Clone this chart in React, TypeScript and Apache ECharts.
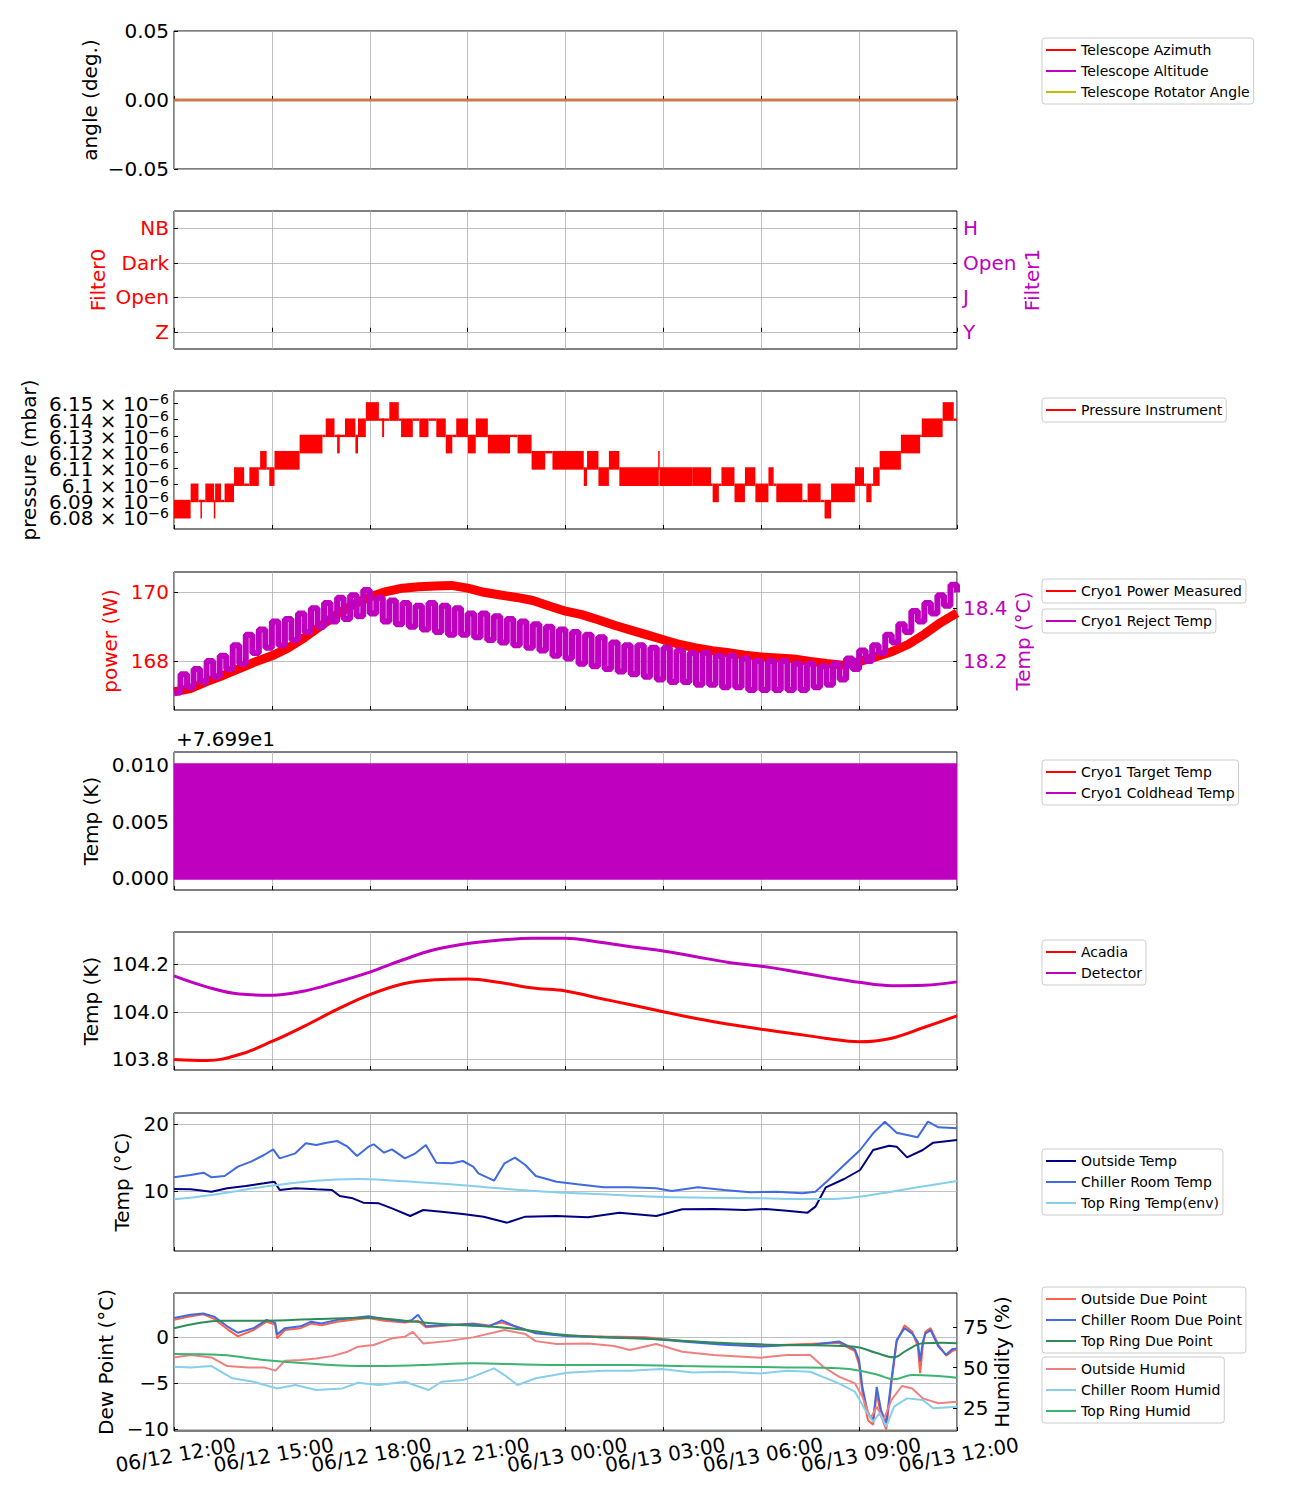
import React, { useEffect, useRef } from 'react';
import * as echarts from 'echarts';

const FONT = 'DejaVu Sans';
const RED = '#ff0000';
const MAGENTA = '#bf00bf';
const OLIVE = '#bfbf00';
const NAVY = '#000080';
const ROYALBLUE = '#4169e1';
const SKYBLUE = '#87ceeb';
const TOMATO = '#ff6347';
const SEAGREEN = '#2e8b57';
const LIGHTCORAL = '#f08080';
const MEDSEAGREEN = '#3cb371';
const GRID_COLOR = '#b0b0b0';

// x axis: hours after 06/12 12:00, one tick label every 3 hours
const xTickLabels = ['06/12 12:00', '06/12 15:00', '06/12 18:00', '06/12 21:00', '06/13 00:00', '06/13 03:00', '06/13 06:00', '06/13 09:00', '06/13 12:00'];

// Panel 1
const telescopeAzimuth = [[0, 0], [24, 0]];
const telescopeAltitude = [[0, 0], [24, 0]];
const telescopeRotator = [[0, 0], [24, 0]];
const angleTicks = [-0.05, 0, 0.05];

// Panel 2
const filterTicks = [0, 1, 2, 3];
const filter0Labels = ['Z', 'Open', 'Dark', 'NB'];
const filter1Labels = ['Y', 'J', 'Open', 'H'];

// Panel 3 (pressure, 1e-6 mbar): [hourStart, hourEnd, low, high]
const pressureMin = 6.0728;
const pressureMax = 6.1576;
const pressureTicks = [6.08, 6.09, 6.1, 6.11, 6.12, 6.13, 6.14, 6.15];
const pressureTickLabels = ['6.08', '6.09', '6.1', '6.11', '6.12', '6.13', '6.14', '6.15'];
const pressureSegments = [
  [0.0, 0.51, 6.08, 6.09], [0.51, 0.75, 6.09, 6.1], [0.75, 0.96, 6.09, 6.09], [0.81, 0.85, 6.08, 6.09],
  [0.96, 1.23, 6.09, 6.1], [1.22, 1.26, 6.08, 6.09], [1.26, 1.44, 6.09, 6.1], [1.44, 1.55, 6.09, 6.09],
  [1.55, 1.84, 6.09, 6.1], [1.84, 2.15, 6.1, 6.11], [2.15, 2.31, 6.1, 6.1], [2.31, 2.6, 6.1, 6.11],
  [2.6, 2.64, 6.11, 6.11], [2.64, 2.84, 6.11, 6.12], [2.84, 2.92, 6.11, 6.11], [2.92, 3.08, 6.1, 6.11],
  [3.08, 3.85, 6.11, 6.12], [3.85, 4.55, 6.12, 6.13], [4.55, 4.65, 6.13, 6.13], [4.65, 4.92, 6.13, 6.14],
  [4.92, 5.24, 6.13, 6.13], [5.0, 5.08, 6.12, 6.13], [5.24, 5.56, 6.13, 6.14], [5.56, 5.64, 6.12, 6.13],
  [5.64, 5.88, 6.13, 6.14], [5.88, 6.28, 6.14, 6.15], [6.28, 6.6, 6.14, 6.14], [6.38, 6.44, 6.13, 6.14],
  [6.6, 6.89, 6.14, 6.15], [6.89, 6.96, 6.14, 6.14], [6.96, 7.32, 6.13, 6.14], [7.32, 7.52, 6.14, 6.14],
  [7.52, 7.8, 6.13, 6.14], [7.8, 8.04, 6.14, 6.14], [8.04, 8.33, 6.13, 6.14], [8.33, 8.53, 6.12, 6.13],
  [8.53, 8.65, 6.13, 6.13], [8.65, 9.01, 6.13, 6.14], [9.01, 9.25, 6.12, 6.13], [9.25, 9.62, 6.13, 6.14],
  [9.62, 10.3, 6.12, 6.13], [10.3, 10.53, 6.13, 6.13], [10.53, 10.96, 6.12, 6.13], [10.96, 11.38, 6.11, 6.12],
  [11.38, 11.6, 6.12, 6.12], [11.6, 12.56, 6.11, 6.12], [12.56, 12.66, 6.1, 6.11], [12.66, 13.01, 6.11, 6.12],
  [13.01, 13.33, 6.1, 6.11], [13.33, 13.65, 6.11, 6.12], [13.65, 14.86, 6.1, 6.11], [14.84, 14.88, 6.11, 6.12],
  [14.88, 15.9, 6.1, 6.11], [15.9, 16.46, 6.1, 6.11], [16.46, 16.51, 6.1, 6.1], [16.51, 16.7, 6.09, 6.1],
  [16.7, 16.78, 6.1, 6.1], [16.78, 17.18, 6.1, 6.11], [17.18, 17.5, 6.09, 6.1], [17.5, 17.82, 6.1, 6.11],
  [17.82, 18.22, 6.09, 6.1], [18.22, 18.38, 6.1, 6.11], [18.38, 18.46, 6.1, 6.1], [18.46, 19.26, 6.09, 6.1],
  [19.26, 19.42, 6.09, 6.09], [19.42, 19.82, 6.09, 6.1], [19.82, 19.94, 6.09, 6.09], [19.94, 20.14, 6.08, 6.09],
  [20.14, 20.87, 6.09, 6.1], [20.87, 21.15, 6.1, 6.11], [21.15, 21.22, 6.1, 6.1], [21.22, 21.38, 6.09, 6.1],
  [21.38, 21.43, 6.1, 6.1], [21.43, 21.63, 6.1, 6.11], [21.63, 22.28, 6.11, 6.12], [22.28, 22.87, 6.12, 6.13],
  [22.87, 22.92, 6.13, 6.13], [22.92, 23.56, 6.13, 6.14], [23.56, 23.9, 6.14, 6.15], [23.9, 24.0, 6.14, 6.14],
];

// Panel 4
const powerTicks = [168, 170];
const rejectTicks = [18.2, 18.4];
const powerMeasured = [
  [0, 167.1], [0.5, 167.2], [1, 167.4], [1.5, 167.58], [2, 167.78], [2.5, 167.98], [3, 168.15], [3.5, 168.38],
  [4, 168.68], [4.5, 169.02], [5, 169.36], [5.5, 169.65], [6, 169.86], [6.5, 170.02], [7, 170.12], [7.5, 170.16],
  [8, 170.18], [8.5, 170.2], [9, 170.12], [9.5, 170.0], [10, 169.92], [10.5, 169.85], [11, 169.76], [11.5, 169.6],
  [12, 169.45], [12.5, 169.35], [13, 169.2], [13.5, 169.04], [14, 168.9], [14.5, 168.76], [15, 168.62], [15.5, 168.48],
  [16, 168.38], [16.5, 168.3], [17, 168.24], [17.5, 168.17], [18, 168.12], [18.5, 168.09], [19, 168.06], [19.5, 167.99],
  [20, 167.93], [20.5, 167.88], [21, 167.98], [21.5, 168.12], [22, 168.27], [22.5, 168.48], [23, 168.78], [23.5, 169.12],
  [24, 169.4],
];
const rejectTemp = [
  [0, 18.08], [0.2, 18.15], [0.4, 18.1], [0.6, 18.17], [0.8, 18.12], [1, 18.2], [1.2, 18.14], [1.4, 18.22],
  [1.6, 18.17], [1.8, 18.26], [2, 18.19], [2.2, 18.3], [2.4, 18.23], [2.6, 18.32], [2.8, 18.25], [3, 18.35],
  [3.2, 18.26], [3.4, 18.36], [3.6, 18.28], [3.8, 18.38], [4, 18.31], [4.2, 18.4], [4.4, 18.33], [4.6, 18.42],
  [4.8, 18.35], [5, 18.44], [5.2, 18.36], [5.4, 18.45], [5.6, 18.37], [5.8, 18.47], [6, 18.38], [6.2, 18.44],
  [6.4, 18.35], [6.6, 18.43], [6.8, 18.34], [7, 18.42], [7.2, 18.33], [7.4, 18.41], [7.6, 18.32], [7.8, 18.42],
  [8, 18.31], [8.2, 18.41], [8.4, 18.3], [8.6, 18.4], [8.8, 18.3], [9, 18.38], [9.2, 18.29], [9.4, 18.38],
  [9.6, 18.28], [9.8, 18.37], [10, 18.27], [10.2, 18.36], [10.4, 18.26], [10.6, 18.35], [10.8, 18.25], [11, 18.34],
  [11.2, 18.24], [11.4, 18.33], [11.6, 18.22], [11.8, 18.32], [12, 18.21], [12.2, 18.31], [12.4, 18.19], [12.6, 18.3],
  [12.8, 18.18], [13, 18.29], [13.2, 18.17], [13.4, 18.27], [13.6, 18.16], [13.8, 18.26], [14, 18.15], [14.2, 18.26],
  [14.4, 18.14], [14.6, 18.25], [14.8, 18.13], [15, 18.25], [15.2, 18.12], [15.4, 18.24], [15.6, 18.12], [15.8, 18.23],
  [16, 18.11], [16.2, 18.23], [16.4, 18.11], [16.6, 18.22], [16.8, 18.1], [17, 18.22], [17.2, 18.1], [17.4, 18.21],
  [17.6, 18.09], [17.8, 18.2], [18, 18.09], [18.2, 18.2], [18.4, 18.09], [18.6, 18.2], [18.8, 18.09], [19, 18.19],
  [19.2, 18.09], [19.4, 18.19], [19.6, 18.1], [19.8, 18.18], [20, 18.11], [20.2, 18.19], [20.4, 18.13], [20.6, 18.21],
  [20.8, 18.17], [21, 18.24], [21.2, 18.2], [21.4, 18.26], [21.6, 18.23], [21.8, 18.3], [22, 18.27], [22.2, 18.34],
  [22.4, 18.31], [22.6, 18.39], [22.8, 18.35], [23, 18.42], [23.2, 18.38], [23.4, 18.45], [23.6, 18.41], [23.8, 18.49],
  [24, 18.46],
];

// Panel 5 (K): coldhead toggles between low and high over the whole span
const coldheadOffset = 76.99;
const coldheadTicks = [76.99, 76.995, 77.0];
const targetTemp = [[0, 77.0], [24, 77.0]];
const coldheadRange = [[0, 24, 76.99, 77.0]]; // [hourStart, hourEnd, low, high]

// Panel 6 (K)
const acadiaDetTicks = [103.8, 104.0, 104.2];
const acadiaTemp = [
  [0, 103.799], [1, 103.795], [2, 103.82], [3, 103.875], [4, 103.94], [5, 104.01], [6, 104.072], [7, 104.117],
  [8, 104.135], [9, 104.138], [10, 104.123], [11, 104.1], [12, 104.088], [13, 104.058], [14, 104.03], [15, 104.0],
  [16, 103.972], [17, 103.948], [18, 103.927], [19, 103.908], [20, 103.888], [21, 103.874], [22, 103.889], [23, 103.935],
  [24, 103.983],
];
const detectorTemp = [
  [0, 104.151], [1, 104.105], [2, 104.075], [3, 104.07], [4, 104.088], [5, 104.125], [6, 104.167], [7, 104.218],
  [8, 104.262], [9, 104.288], [10, 104.302], [11, 104.31], [12, 104.31], [13, 104.294], [14, 104.274], [15, 104.256],
  [16, 104.232], [17, 104.208], [18, 104.192], [19, 104.17], [20, 104.146], [21, 104.124], [22, 104.11], [23, 104.112],
  [24, 104.126],
];

// Panel 7 (deg C)
const envTempTicks = [10, 20];
const outsideTemp = [
  [0, 10.3], [0.51, 10.25], [1.15, 9.9], [1.63, 10.4], [2.2, 10.75], [2.76, 11.15], [3.08, 11.4], [3.24, 10.15],
  [3.72, 10.4], [4.36, 10.25], [4.84, 10.15], [5.08, 9.25], [5.48, 8.9], [5.8, 8.25], [6.28, 8.15], [6.68, 7.4],
  [7.24, 6.25], [7.64, 7.15], [8.2, 6.9], [8.85, 6.55], [9.49, 6.15], [10.21, 5.25], [10.77, 6.15], [11.73, 6.25],
  [12.69, 6.05], [13.65, 6.75], [14.78, 6.25], [15.58, 7.25], [16.54, 7.3], [17.5, 7.15], [18.14, 7.3], [18.78, 7.05],
  [19.42, 6.75], [19.66, 7.65], [19.98, 10.55], [20.54, 11.8], [21.03, 13.15], [21.43, 16.15], [21.92, 16.8], [22.15, 16.65],
  [22.47, 15.05], [22.95, 16.15], [23.27, 17.25], [24, 17.65],
];
const chillerTemp = [
  [0, 12.05], [0.51, 12.4], [0.91, 12.75], [1.15, 12.05], [1.55, 12.25], [1.96, 13.65], [2.36, 14.4], [2.76, 15.4],
  [3.04, 16.25], [3.24, 14.9], [3.72, 15.65], [4.04, 17.15], [4.36, 16.9], [4.68, 17.25], [5.0, 17.5], [5.32, 16.65],
  [5.61, 15.25], [5.96, 16.65], [6.12, 17.0], [6.44, 15.75], [6.68, 16.25], [7.08, 14.9], [7.4, 15.65], [7.72, 16.9],
  [8.04, 14.25], [8.53, 14.15], [8.85, 14.5], [9.17, 13.65], [9.33, 12.65], [9.81, 11.55], [10.13, 14.15], [10.45, 15.0],
  [10.77, 13.9], [11.09, 12.25], [11.73, 11.4], [12.37, 11.0], [13.17, 10.55], [13.97, 10.55], [14.78, 10.4], [15.26, 10.0],
  [16.06, 10.55], [16.86, 10.15], [17.66, 9.8], [18.46, 9.9], [19.26, 9.65], [19.66, 9.9], [20.06, 11.65], [20.54, 13.9],
  [21.03, 16.15], [21.43, 18.65], [21.79, 20.4], [22.15, 18.75], [22.79, 18.05], [23.11, 20.4], [23.43, 19.55], [24, 19.4],
];
const topRingTemp = [
  [0, 8.75], [1.15, 9.4], [2.76, 10.65], [4.36, 11.55], [5.64, 11.8], [6.76, 11.55], [8.37, 11.05], [9.97, 10.4],
  [11.57, 9.85], [13.17, 9.5], [14.78, 9.15], [16.38, 9.0], [17.98, 8.9], [19.58, 8.8], [20.38, 8.85], [21.19, 9.25],
  [21.99, 9.9], [22.79, 10.55], [24, 11.5],
];

// Panel 8
const dewTicks = [-10, -5, 0];
const humidTicks = [25, 50, 75];
const outsideDew = [
  [0, 1.9], [0.51, 2.3], [0.9, 2.5], [1.23, 2.0], [1.63, 0.9], [1.96, 0.1], [2.44, 0.8], [2.84, 1.7], [3.1, 1.4],
  [3.16, -0.1], [3.4, 0.8], [3.88, 1.0], [4.2, 1.5], [4.52, 1.3], [5.0, 1.7], [5.48, 1.9], [5.96, 2.1], [6.44, 1.8],
  [7.08, 1.6], [7.48, 1.8], [7.72, 1.1], [8.37, 1.3], [9.17, 1.5], [9.65, 1.3], [10.05, 1.6], [10.45, 1.2], [11.09, 0.5],
  [12.0, 0.2], [13.17, 0.1], [14.46, 0.0], [15.58, -0.4], [16.86, -0.7], [17.98, -0.9], [18.78, -0.8], [19.58, -0.7],
  [20.38, -0.6], [20.87, -1.5], [21.0, -3.0], [21.1, -6.0], [21.27, -9.0], [21.43, -9.5], [21.54, -6.0], [21.67, -8.5],
  [21.83, -10.0], [21.99, -5.0], [22.15, -0.5], [22.39, 1.3], [22.63, 0.6], [22.8, -1.0], [22.87, -3.9], [22.95, -1.0],
  [23.03, 0.6], [23.19, 1.0], [23.43, -0.8], [23.67, -2.0], [23.85, -1.5], [24, -1.3],
];
const chillerDew = [
  [0, 2.1], [0.51, 2.45], [0.9, 2.6], [1.23, 2.25], [1.63, 1.2], [1.96, 0.5], [2.44, 1.0], [2.84, 1.9], [3.1, 1.6],
  [3.16, 0.3], [3.4, 1.0], [3.88, 1.2], [4.2, 1.7], [4.52, 1.5], [5.0, 1.9], [5.48, 2.1], [5.96, 2.3], [6.44, 2.0],
  [7.08, 1.7], [7.3, 1.9], [7.48, 2.45], [7.72, 1.2], [8.37, 1.35], [9.17, 1.45], [9.65, 1.2], [10.05, 1.85], [10.45, 1.2],
  [11.09, 0.45], [12.0, 0.15], [13.17, 0.0], [14.46, -0.1], [15.58, -0.45], [16.86, -0.8], [17.98, -1.0], [18.78, -0.85],
  [19.58, -0.8], [20.38, -0.45], [20.87, -1.3], [21.0, -2.5], [21.1, -5.4], [21.27, -8.3], [21.43, -9.0], [21.54, -5.4],
  [21.67, -7.9], [21.83, -9.3], [21.99, -4.6], [22.15, -0.3], [22.39, 1.0], [22.63, 0.4], [22.8, -0.5], [22.87, -2.6],
  [22.95, -0.5], [23.03, 0.4], [23.19, 0.8], [23.43, -1.0], [23.67, -1.9], [23.85, -1.3], [24, -1.2],
];
const topRingDew = [
  [0, 0.98], [1.47, 1.81], [2.76, 1.81], [4.36, 1.99], [5.96, 2.14], [7.08, 1.81], [8.37, 1.41], [9.97, 1.09],
  [10.77, 0.8], [12.0, 0.25], [13.17, 0.0], [14.78, -0.22], [16.38, -0.54], [17.98, -0.76], [19.58, -0.87], [20.87, -1.01],
  [21.51, -1.67], [22.07, -2.17], [22.47, -1.38], [22.95, -0.65], [23.59, -0.58], [24, -0.65],
];
const outsideHumid = [
  [0, 56.2], [0.51, 57.7], [1.15, 56.2], [1.63, 50.9], [2.28, 50.1], [2.76, 50.1], [3.11, 48.1], [3.4, 54.2],
  [3.88, 54.6], [4.36, 55.6], [4.84, 57.0], [5.32, 59.7], [5.64, 62.8], [6.12, 63.8], [6.68, 67.9], [7.08, 68.9],
  [7.32, 71.9], [7.64, 64.8], [8.37, 66.2], [9.17, 68.5], [10.13, 73.0], [10.77, 70.5], [11.09, 66.2], [11.73, 64.4],
  [12.69, 64.8], [13.49, 63.2], [13.97, 60.7], [14.78, 64.4], [15.58, 59.7], [16.54, 57.7], [17.18, 57.0], [17.98, 56.0],
  [18.78, 57.7], [19.5, 57.7], [19.9, 50.5], [20.38, 44.4], [20.87, 40.3], [21.1, 32.1], [21.35, 18.9], [21.54, 26.0],
  [21.75, 17.9], [21.99, 30.1], [22.31, 38.7], [22.63, 37.2], [22.95, 31.1], [23.43, 28.1], [24, 29.1],
];
const chillerHumid = [
  [0, 50.5], [0.51, 50.1], [1.15, 50.9], [1.79, 43.4], [2.44, 41.3], [3.16, 37.2], [3.72, 39.3], [4.36, 36.2],
  [5.16, 37.2], [5.64, 40.7], [6.28, 39.3], [7.08, 41.3], [7.8, 36.2], [8.2, 41.3], [8.85, 42.3], [9.17, 44.4],
  [9.81, 49.5], [10.13, 45.4], [10.53, 39.3], [11.09, 43.4], [12.05, 46.8], [13.17, 48.1], [13.97, 48.1], [14.94, 49.1],
  [15.9, 47.0], [16.86, 47.4], [17.98, 46.4], [18.78, 48.1], [19.5, 47.4], [20.38, 40.3], [20.87, 35.2], [21.19, 24.0],
  [21.43, 16.8], [21.63, 22.0], [21.83, 13.8], [22.07, 26.0], [22.47, 31.1], [22.95, 30.1], [23.27, 25.0], [24, 26.0],
];
const topRingHumid = [
  [0, 58.3], [1.47, 57.7], [2.76, 54.6], [4.36, 52.1], [5.96, 50.9], [7.56, 51.5], [9.17, 52.6], [10.77, 51.9],
  [12.37, 51.5], [13.97, 51.5], [15.58, 50.9], [17.18, 50.5], [18.78, 50.1], [20.38, 49.5], [21.03, 48.1], [21.59, 45.4],
  [22.07, 42.8], [22.63, 45.4], [23.27, 45.0], [24, 43.8],
];

const GRID_TOPS = [31, 211, 391, 572, 752, 932, 1113, 1293];
const PANEL_H = 138;

const minus = (s: string) => s.replace('-', '\u2212');

function yAxisCfg(o: any) {
  const color = o.color || '#000';
  const labelValues = o.labelValues || o.ticks;
  const tickValues = o.tickValues || o.ticks;
  const edgeTrick = !!o.labelValues;
  return {
    type: 'value',
    gridIndex: o.grid,
    min: o.min,
    max: o.max,
    position: o.position || 'left',
    axisLine: { show: false },
    axisTick: { show: true, inside: true, length: 4, lineStyle: { color: '#000', width: 1 }, customValues: tickValues },
    axisLabel: {
      show: true,
      customValues: labelValues,
      formatter: o.fmt,
      color,
      fontSize: 20,
      fontFamily: FONT,
      margin: o.position === 'right' ? 6 : 5,
      rich: o.rich,
      showMinLabel: !edgeTrick,
      showMaxLabel: !edgeTrick,
      hideOverlap: false,
    },
    splitLine: { show: o.split !== false, lineStyle: { color: GRID_COLOR, width: 0.8 } },
    name: o.name,
    nameLocation: 'middle',
    nameGap: o.nameGap,
    nameRotate: 90,
    nameMoveOverlap: false,
    nameTextStyle: { fontSize: 20, fontFamily: FONT, color },
  };
}

function lineSeries(name: string, data: any, color: string, idx: number, yIdx: number, width: number, extra: any = {}) {
  return {
    type: 'line',
    name,
    data,
    xAxisIndex: idx,
    yAxisIndex: yIdx,
    showSymbol: false,
    symbol: 'none',
    color,
    itemStyle: { color },
    lineStyle: { color, width },
    silent: true,
    ...extra,
  };
}

function bandSeries(name: string, data: any, color: string, idx: number, yIdx: number, pad: number, z: number) {
  return {
    type: 'custom',
    name,
    xAxisIndex: idx,
    yAxisIndex: yIdx,
    data,
    z,
    encode: { x: [0, 1], y: [2, 3] },
    color,
    itemStyle: { color },
    clip: true,
    silent: true,
    renderItem: (_p: any, api: any) => {
      const a = api.coord([api.value(0), api.value(3)]);
      const b = api.coord([api.value(1), api.value(2)]);
      return {
        type: 'rect',
        shape: { x: a[0], y: a[1] - pad, width: Math.max(b[0] - a[0], 1.5), height: b[1] - a[1] + 2 * pad },
        style: { fill: color },
      };
    },
  };
}

function legendCfg(top: number, names: string[]) {
  return {
    top,
    left: 1042,
    orient: 'vertical',
    data: names,
    icon: 'rect',
    itemWidth: 30,
    itemHeight: 2,
    itemGap: 7,
    padding: [5, 4, 5, 4],
    backgroundColor: '#ffffff',
    borderColor: '#cccccc',
    borderWidth: 1,
    borderRadius: 3,
    selectedMode: false,
    textStyle: { fontSize: 14, fontFamily: FONT, color: '#000', lineHeight: 14 },
  };
}

export default function App() {
  const ref = useRef<HTMLDivElement>(null);
  useEffect(() => {
    if (!ref.current) return;
    const chart = echarts.init(ref.current, null, { renderer: 'svg' });

    const xAxis: any[] = GRID_TOPS.map((_, i) => ({
      type: 'value',
      gridIndex: i,
      min: 0,
      max: 24,
      interval: 3,
      position: i === 7 ? 'top' : 'bottom',
      axisLine: { show: false },
      axisTick: { show: i !== 7, inside: true, length: 4, lineStyle: { color: '#000', width: 1 } },
      axisLabel: { show: false },
      splitLine: { show: true, lineStyle: { color: GRID_COLOR, width: 0.8 } },
    }));
    // tick labels of the shared time axis, evenly spaced 3 hours apart along the bottom panel
    xAxis.push({
      type: 'category',
      gridIndex: 7,
      position: 'bottom',
      data: xTickLabels,
      boundaryGap: false,
      axisLine: { show: false },
      axisTick: { show: true, inside: true, length: 4, interval: 0, lineStyle: { color: '#000', width: 1 } },
      axisLabel: {
        show: true,
        interval: 0,
        rotate: 10,
        align: 'center',
        verticalAlign: 'top',
        margin: 14,
        fontSize: 20,
        fontFamily: FONT,
        color: '#000',
      },
      splitLine: { show: false },
    });

    const pressureEdges = [pressureMin, ...pressureTicks, pressureMax];

    const yAxis = [
      yAxisCfg({ grid: 0, min: -0.05, max: 0.05, ticks: angleTicks, fmt: (v: number) => minus(v.toFixed(2)), name: 'angle (deg.)', nameGap: 74 }),
      yAxisCfg({ grid: 1, min: -0.5, max: 3.5, ticks: filterTicks, fmt: (v: number) => filter0Labels[Math.round(v)] ?? '', name: 'Filter0', nameGap: 66, color: RED }),
      yAxisCfg({ grid: 1, min: -0.5, max: 3.5, ticks: filterTicks, fmt: (v: number) => filter1Labels[Math.round(v)] ?? '', name: 'Filter1', nameGap: 65, color: MAGENTA, position: 'right', split: false }),
      yAxisCfg({
        grid: 2, min: pressureMin, max: pressureMax, ticks: pressureTicks, split: false,
        labelValues: pressureEdges,
        tickValues: pressureEdges,
        fmt: (v: number) => {
          const i = pressureTicks.findIndex((t) => Math.abs(t - v) < 1e-6);
          if (i < 0) return '';
          return `{m|${pressureTickLabels[i]} \u00d7 10}{s|\u22126}`;
        },
        rich: {
          m: { fontSize: 20, fontFamily: FONT, color: '#000', lineHeight: 22, verticalAlign: 'bottom' },
          s: { fontSize: 14, fontFamily: FONT, color: '#000', lineHeight: 10, verticalAlign: 'top' },
        },
        name: 'pressure (mbar)', nameGap: 135,
      }),
      yAxisCfg({ grid: 3, min: 166.574, max: 170.59, ticks: powerTicks, fmt: (v: number) => v.toFixed(0), name: 'power (W)', nameGap: 54, color: RED }),
      yAxisCfg({ grid: 3, min: 18.014, max: 18.538, ticks: rejectTicks, fmt: (v: number) => v.toFixed(1), name: 'Temp (\u00b0C)', nameGap: 56, color: MAGENTA, position: 'right', split: false }),
      yAxisCfg({ grid: 4, min: 76.98897, max: 77.00113, ticks: coldheadTicks, fmt: (v: number) => (v - coldheadOffset).toFixed(3), name: 'Temp (K)', nameGap: 73 }),
      yAxisCfg({ grid: 5, min: 103.755, max: 104.336, ticks: acadiaDetTicks, fmt: (v: number) => v.toFixed(1), name: 'Temp (K)', nameGap: 73 }),
      yAxisCfg({ grid: 6, min: 1.0, max: 21.7, ticks: envTempTicks, fmt: (v: number) => v.toFixed(0), name: 'Temp (\u00b0C)', nameGap: 42 }),
      yAxisCfg({ grid: 7, min: -10.18, max: 4.82, ticks: dewTicks, fmt: (v: number) => minus(v.toFixed(0)), name: 'Dew Point (\u00b0C)', nameGap: 58 }),
      yAxisCfg({ grid: 7, min: 11.1, max: 95.7, ticks: humidTicks, fmt: (v: number) => v.toFixed(0), name: 'Humidity (%)', nameGap: 35, position: 'right', split: false }),
    ];

    const series: any[] = [
      lineSeries('Telescope Azimuth', telescopeAzimuth, RED, 0, 0, 2.5, { lineStyle: { color: RED, width: 2.5, opacity: 0.6 } }),
      lineSeries('Telescope Altitude', telescopeAltitude, MAGENTA, 0, 0, 2.5, { lineStyle: { color: MAGENTA, width: 2.5, opacity: 0.6 } }),
      lineSeries('Telescope Rotator Angle', telescopeRotator, OLIVE, 0, 0, 2.5, { lineStyle: { color: OLIVE, width: 2.5, opacity: 0.6 } }),
      bandSeries('Pressure Instrument', pressureSegments, RED, 2, 3, 1.2, 3),
      lineSeries('Cryo1 Power Measured', powerMeasured, RED, 3, 4, 9),
      lineSeries('Cryo1 Reject Temp', rejectTemp, MAGENTA, 3, 5, 6, { step: 'end' }),
      lineSeries('Cryo1 Target Temp', targetTemp, RED, 4, 6, 1.5),
      bandSeries('Cryo1 Coldhead Temp', coldheadRange, MAGENTA, 4, 6, 1.5, 5),
      lineSeries('Acadia', acadiaTemp, RED, 5, 7, 3, { smooth: 0.4 }),
      lineSeries('Detector', detectorTemp, MAGENTA, 5, 7, 3, { smooth: 0.4 }),
      lineSeries('Outside Temp', outsideTemp, NAVY, 6, 8, 2),
      lineSeries('Chiller Room Temp', chillerTemp, ROYALBLUE, 6, 8, 2),
      lineSeries('Top Ring Temp(env)', topRingTemp, SKYBLUE, 6, 8, 2, { smooth: 0.4 }),
      lineSeries('Outside Due Point', outsideDew, TOMATO, 7, 9, 2),
      lineSeries('Chiller Room Due Point', chillerDew, ROYALBLUE, 7, 9, 2),
      lineSeries('Top Ring Due Point', topRingDew, SEAGREEN, 7, 9, 2, { smooth: 0.4 }),
      lineSeries('Outside Humid', outsideHumid, LIGHTCORAL, 7, 10, 2),
      lineSeries('Chiller Room Humid', chillerHumid, SKYBLUE, 7, 10, 2),
      lineSeries('Top Ring Humid', topRingHumid, MEDSEAGREEN, 7, 10, 2, { smooth: 0.4 }),
    ];

    chart.setOption({
      animation: false,
      textStyle: { fontFamily: FONT },
      grid: GRID_TOPS.map((t) => ({
        left: 174,
        width: 783,
        top: t,
        height: PANEL_H,
        show: true,
        borderColor: '#000',
        borderWidth: 1,
        backgroundColor: 'transparent',
        containLabel: false,
        outerBoundsMode: 'none',
      })),
      xAxis,
      yAxis,
      legend: [
        legendCfg(38, ['Telescope Azimuth', 'Telescope Altitude', 'Telescope Rotator Angle']),
        legendCfg(398, ['Pressure Instrument']),
        legendCfg(579, ['Cryo1 Power Measured']),
        legendCfg(609, ['Cryo1 Reject Temp']),
        legendCfg(760, ['Cryo1 Target Temp', 'Cryo1 Coldhead Temp']),
        legendCfg(940, ['Acadia', 'Detector']),
        legendCfg(1149, ['Outside Temp', 'Chiller Room Temp', 'Top Ring Temp(env)']),
        legendCfg(1287, ['Outside Due Point', 'Chiller Room Due Point', 'Top Ring Due Point']),
        legendCfg(1357, ['Outside Humid', 'Chiller Room Humid', 'Top Ring Humid']),
      ],
      graphic: [
        {
          type: 'text',
          left: 176,
          top: 729,
          style: { text: '+7.699e1', font: `20px "${FONT}"`, fill: '#000' },
        },
      ],
      series,
    });
    return () => chart.dispose();
  }, []);

  return <div ref={ref} style={{ position: 'absolute', left: 0, top: 0, width: 1300, height: 1500 }} />;
}
